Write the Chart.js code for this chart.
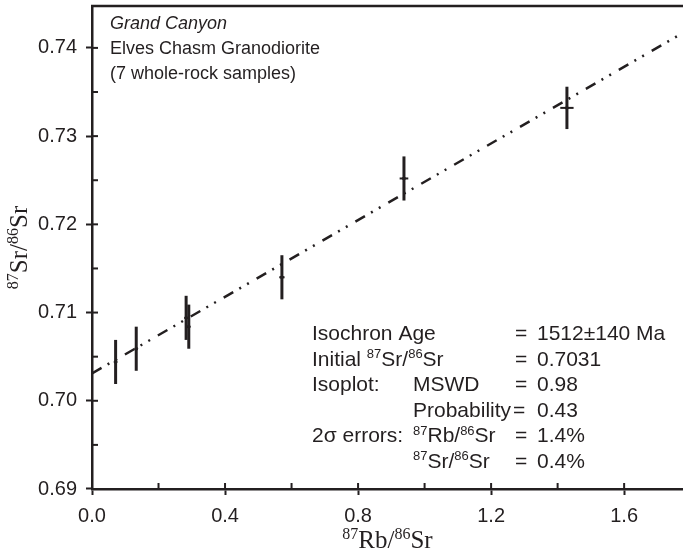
<!DOCTYPE html>
<html>
<head>
<meta charset="utf-8">
<script src="https://cdn.jsdelivr.net/npm/chart.js@4.4.0/dist/chart.umd.min.js"></script>
<style>
  html, body { margin: 0; padding: 0; background: #fff; }
</style>
</head>
<body>
<canvas id="isochron" width="683" height="553"></canvas>
<script>
// whole-rock samples
const rbSr  = [0.071, 0.133, 0.283, 0.291, 0.571, 0.938, 1.428];
const srSr  = [0.7044, 0.7059, 0.7094, 0.7084, 0.7140, 0.7252, 0.7332];
const srErr = [0.0025, 0.0025, 0.0025, 0.0025, 0.0025, 0.0025, 0.0024];
const rbErr = [0.001, 0.002, 0.004, 0.004, 0.008, 0.013, 0.020];

// isochron fit line
const fitX = [0, 1.777];
const fitY = [0.7031, 0.7417];

const headingLines = ['Grand Canyon', 'Elves Chasm Granodiorite', '(7 whole-rock samples)'];
const statsRows = [
  ['Isochron Age', '', '=', '1512\u00b1140 Ma'],
  ['Initial {87}Sr/{86}Sr', '', '=', '0.7031'],
  ['Isoplot:', 'MSWD', '=', '0.98'],
  ['', 'Probability', '=', '0.43'],
  ['2\u03c3 errors:', '{87}Rb/{86}Sr', '=', '1.4%'],
  ['', '{87}Sr/{86}Sr', '=', '0.4%']
];
const xTitle = '{87}Rb/{86}Sr';
const yTitle = '{87}Sr/{86}Sr';

const INK = '#231f20';
const SANS = '"Liberation Sans", Arial, sans-serif';
const SERIF = '"Liberation Serif", "Times New Roman", serif';

// split "{87}Sr" into superscript / normal pieces
function splitSup(str) {
  const out = [];
  str.replace(/\{([^}]*)\}|([^{]+)/g, (m, s, n) => {
    if (s !== undefined) out.push({ t: s, sup: true });
    else out.push({ t: n, sup: false });
  });
  return out;
}

function richWidth(ctx, str, size, family) {
  let w = 0;
  splitSup(str).forEach(p => {
    ctx.font = (p.sup ? Math.round(size * 0.62) : size) + 'px ' + family;
    w += ctx.measureText(p.t).width;
  });
  return w;
}

function drawRich(ctx, str, x, y, size, family) {
  splitSup(str).forEach(p => {
    ctx.font = (p.sup ? Math.round(size * 0.62) : size) + 'px ' + family;
    ctx.fillText(p.t, x, p.sup ? y - size * 0.36 : y);
    x += ctx.measureText(p.t).width;
  });
}

const errorBars = {
  id: 'errorBars',
  afterDatasetsDraw(chart) {
    const { ctx, scales: { x, y } } = chart;
    ctx.save();
    ctx.strokeStyle = INK;
    ctx.lineCap = 'butt';
    rbSr.forEach((v, i) => {
      const px = x.getPixelForValue(v);
      const py = y.getPixelForValue(srSr[i]);
      ctx.lineWidth = 3;
      ctx.beginPath();
      ctx.moveTo(px, y.getPixelForValue(srSr[i] + srErr[i]));
      ctx.lineTo(px, y.getPixelForValue(srSr[i] - srErr[i]));
      ctx.stroke();
      ctx.lineWidth = 2;
      ctx.beginPath();
      ctx.moveTo(x.getPixelForValue(v - rbErr[i]), py);
      ctx.lineTo(x.getPixelForValue(v + rbErr[i]), py);
      ctx.stroke();
    });
    ctx.restore();
  }
};

const frameAndText = {
  id: 'frameAndText',
  afterDraw(chart) {
    const { ctx, chartArea: a, scales: { x, y } } = chart;
    ctx.save();
    ctx.strokeStyle = INK;
    ctx.fillStyle = INK;

    // top border
    ctx.lineWidth = 2.5;
    ctx.beginPath();
    ctx.moveTo(a.left - 1, a.top);
    ctx.lineTo(a.right, a.top);
    ctx.stroke();

    // inner tick marks
    ctx.lineWidth = 2;
    x.ticks.forEach(t => {
      const px = x.getPixelForValue(t.value);
      ctx.beginPath();
      ctx.moveTo(px, a.bottom);
      ctx.lineTo(px, a.bottom - 6);
      ctx.stroke();
    });
    y.ticks.forEach(t => {
      const py = y.getPixelForValue(t.value);
      ctx.beginPath();
      ctx.moveTo(a.left, py);
      ctx.lineTo(a.left + 6, py);
      ctx.stroke();
    });

    // heading
    ctx.textBaseline = 'alphabetic';
    ctx.textAlign = 'left';
    ctx.font = 'italic 18px ' + SANS;
    ctx.fillText(headingLines[0], 110, 29);
    ctx.font = '18px ' + SANS;
    ctx.fillText(headingLines[1], 110, 54);
    ctx.fillText(headingLines[2], 110, 79);

    // isochron statistics
    statsRows.forEach((row, r) => {
      const by = 340 + r * 25.6;
      const cols = [312, 413, r === 3 ? 513 : 515, 537];
      row.forEach((cell, c) => {
        if (cell) drawRich(ctx, cell, cols[c], by, 21, SANS);
      });
    });

    // axis titles
    const xs = 25;
    const xw = richWidth(ctx, xTitle, xs, SERIF);
    drawRich(ctx, xTitle, (a.left + a.right) / 2 - xw / 2, 548, xs, SERIF);

    const yw = richWidth(ctx, yTitle, xs, SERIF);
    ctx.translate(27, (a.top + a.bottom) / 2);
    ctx.rotate(-Math.PI / 2);
    drawRich(ctx, yTitle, -yw / 2, 0, xs, SERIF);
    ctx.restore();
  }
};

const isMajorX = v => Math.round(v * 10) % 4 === 0;
const isMajorY = v => Math.round(v * 1000) % 10 === 0;

new Chart(document.getElementById('isochron'), {
  type: 'scatter',
  data: {
    datasets: [
      {
        type: 'line',
        label: 'Isochron',
        data: fitX.map((v, i) => ({ x: v, y: fitY[i] })),
        borderColor: INK,
        borderWidth: 2.5,
        borderDash: [11, 7, 2, 7, 2, 9],
        pointRadius: 0,
        fill: false,
        order: 2
      },
      {
        label: 'Whole-rock samples',
        data: rbSr.map((v, i) => ({ x: v, y: srSr[i] })),
        backgroundColor: INK,
        borderColor: INK,
        pointRadius: 1.5,
        order: 1
      }
    ]
  },
  options: {
    responsive: false,
    animation: false,
    devicePixelRatio: 1,
    layout: { autoPadding: false, padding: { top: 6, right: 0, left: 0, bottom: 0 } },
    plugins: {
      legend: { display: false },
      tooltip: { enabled: false }
    },
    scales: {
      x: {
        type: 'linear',
        min: 0,
        max: 1.777,
        afterFit: s => { s.height = 64; s.paddingLeft = 0; s.paddingRight = 0; },
        border: { color: INK, width: 2.5 },
        grid: {
          drawOnChartArea: false,
          drawTicks: true,
          tickLength: 6,
          tickWidth: 2,
          tickColor: c => isMajorX(c.tick.value) ? INK : 'rgba(0,0,0,0)'
        },
        ticks: {
          stepSize: 0.2,
          includeBounds: false,
          autoSkip: false,
          maxRotation: 0,
          padding: 9,
          color: INK,
          font: { family: SANS, size: 20 },
          callback: v => isMajorX(v) ? v.toFixed(1) : ''
        }
      },
      y: {
        type: 'linear',
        min: 0.69,
        max: 0.74475,
        afterFit: s => { s.width = 92; s.paddingTop = 0; s.paddingBottom = 0; },
        border: { color: INK, width: 2.5 },
        grid: {
          drawOnChartArea: false,
          drawTicks: true,
          tickLength: 6,
          tickWidth: 2,
          tickColor: c => isMajorY(c.tick.value) ? INK : 'rgba(0,0,0,0)'
        },
        ticks: {
          stepSize: 0.005,
          includeBounds: false,
          autoSkip: false,
          padding: 9,
          color: INK,
          font: { family: SANS, size: 20 },
          callback: v => isMajorY(v) ? v.toFixed(2) : ''
        }
      }
    }
  },
  plugins: [errorBars, frameAndText]
});
</script>
</body>
</html>
